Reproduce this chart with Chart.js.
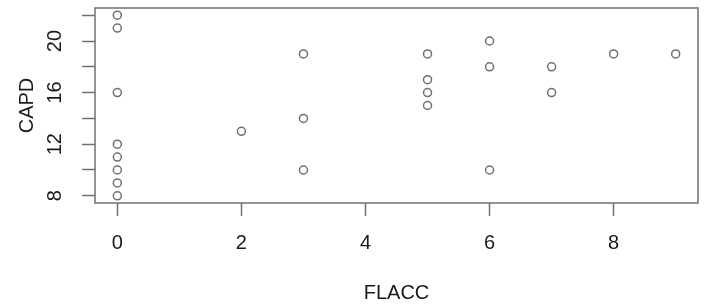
<!DOCTYPE html>
<html>
<head>
<meta charset="utf-8">
<script src="https://cdn.jsdelivr.net/npm/chart.js@4/dist/chart.umd.min.js"></script>
<style>
  html, body { margin: 0; padding: 0; background: #fff; }
  #wrap { width: 704px; height: 305px; position: relative; }
</style>
</head>
<body>
<div id="wrap"><canvas id="chart"></canvas></div>
<script>
const flacc = [0, 0, 0, 0, 0, 0, 0, 0, 2, 3, 3, 3, 5, 5, 5, 5, 6, 6, 6, 7, 7, 8, 9];
const capd = [22, 21, 16, 12, 11, 10, 9, 8, 13, 19, 14, 10, 19, 17, 16, 15, 20, 18, 10, 18, 16, 19, 19];

const xTicks = [0, 2, 4, 6, 8];
const yTicks = [8, 10, 12, 14, 16, 18, 20, 22];
const yLabels = [8, 12, 16, 20];

const gray = "#707070";
const ink = "#1a1a1a";
const font = { family: "'Liberation Sans', Arial, sans-serif", size: 20 };

// R draws a closed box around the plot region
const boxPlugin = {
  id: "box",
  afterDraw(chart) {
    const { ctx, chartArea: a } = chart;
    ctx.save();
    ctx.strokeStyle = gray;
    ctx.lineWidth = 1.5;
    ctx.strokeRect(a.left, a.top, a.right - a.left, a.bottom - a.top);
    ctx.restore();
  },
};

new Chart(document.getElementById("chart"), {
  type: "scatter",
  data: {
    datasets: [{
      data: flacc.map((x, i) => ({ x, y: capd[i] })),
      pointStyle: "circle",
      pointRadius: 4,
      pointHoverRadius: 4,
      borderColor: gray,
      borderWidth: 1.5,
      backgroundColor: "transparent",
    }],
  },
  options: {
    responsive: true,
    maintainAspectRatio: false,
    animation: false,
    events: [],
    layout: { padding: { top: 8, right: 6, left: 0, bottom: 0 } },
    plugins: { legend: { display: false }, tooltip: { enabled: false } },
    scales: {
      x: {
        type: "linear",
        min: -0.36,
        max: 9.36,
        afterBuildTicks: (s) => { s.ticks = xTicks.map((v) => ({ value: v })); },
        afterFit: (s) => { s.height = 102; s.paddingLeft = 0; s.paddingRight = 0; },
        border: { display: false },
        grid: { drawOnChartArea: false, drawTicks: true, tickLength: 13, color: gray, tickWidth: 1.5 },
        ticks: { color: ink, font, padding: 15, maxRotation: 0, autoSkip: false },
        title: { display: true, text: "FLACC", color: ink, font, padding: { top: 0, bottom: 0 } },
      },
      y: {
        type: "linear",
        min: 7.44,
        max: 22.56,
        afterBuildTicks: (s) => { s.ticks = yTicks.map((v) => ({ value: v })); },
        afterFit: (s) => { s.width = 95; s.paddingTop = 0; s.paddingBottom = 0; },
        border: { display: false },
        grid: { drawOnChartArea: false, drawTicks: true, tickLength: 13, color: gray, tickWidth: 1.5 },
        ticks: {
          color: ink,
          font,
          padding: 15,
          minRotation: 90,
          maxRotation: 90,
          crossAlign: "center",
          autoSkip: false,
          callback: (v) => (yLabels.includes(v) ? String(v) : ""),
        },
        title: { display: true, text: "CAPD", color: ink, font, padding: { top: 15, bottom: 0 } },
      },
    },
  },
  plugins: [boxPlugin],
});
</script>
</body>
</html>
